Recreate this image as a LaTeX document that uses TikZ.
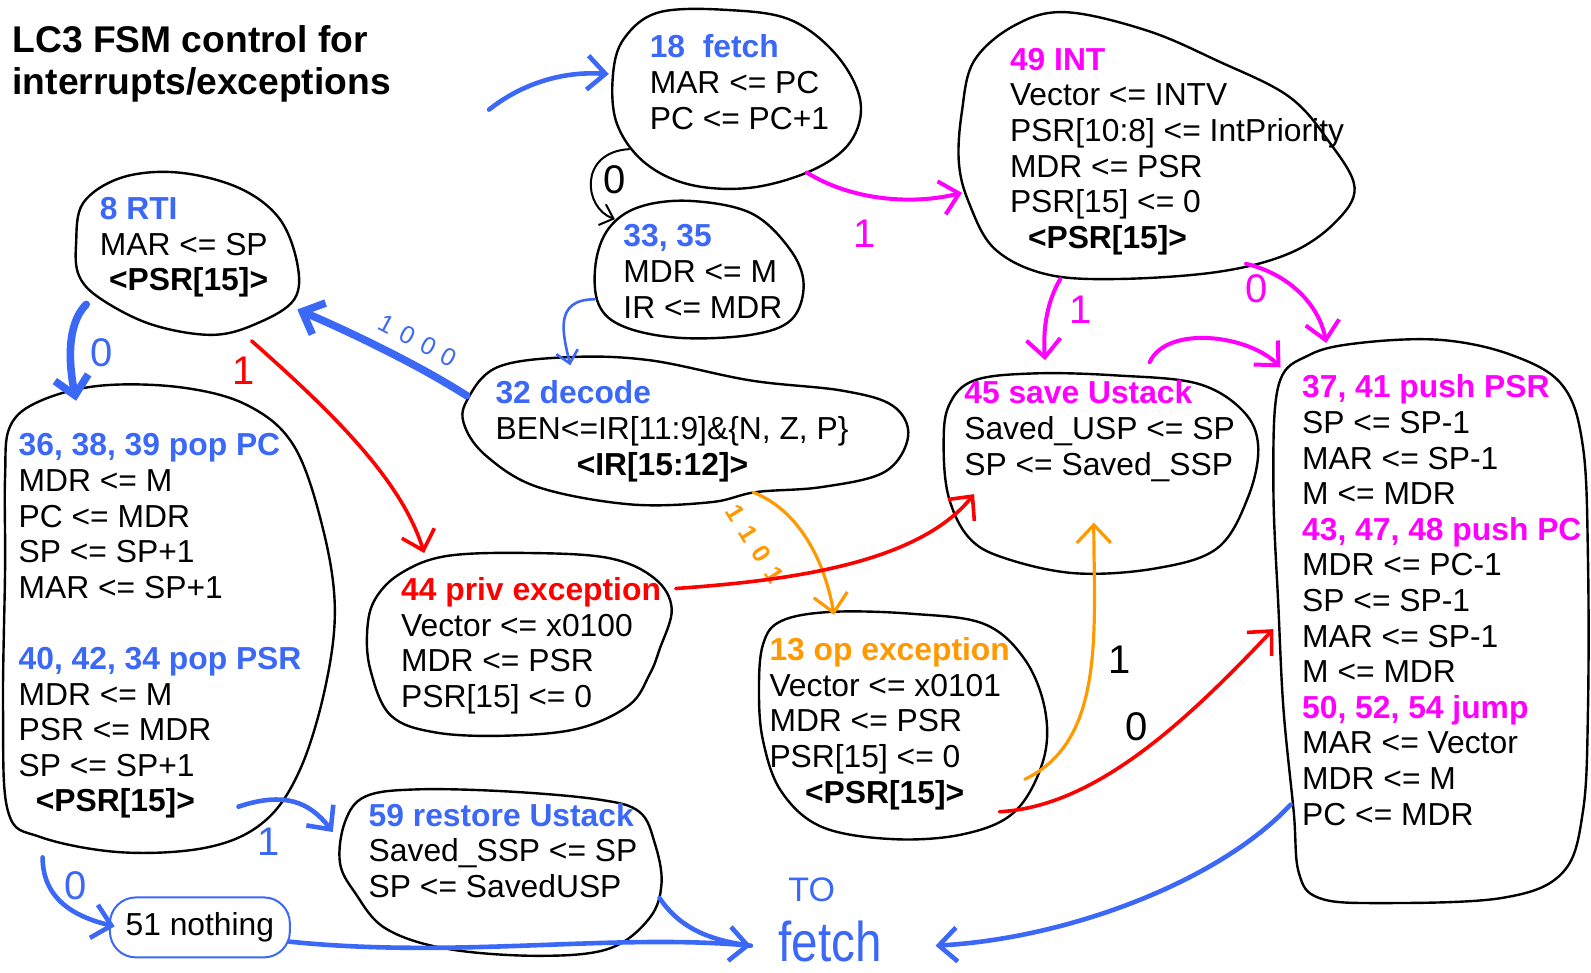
\documentclass[tikz,border=0pt]{standalone}
\usepackage{fontspec}
\setmainfont{Liberation Sans}
\usetikzlibrary{arrows.meta}
\definecolor{sblue}{RGB}{59,104,246}
\definecolor{smag}{RGB}{255,0,255}
\definecolor{sred}{RGB}{255,0,0}
\definecolor{sorange}{RGB}{255,153,0}
\newcommand\hdr[2]{\textcolor{#1}{\bfseries #2}}
\tikzset{
  blob/.style={draw=black, line width=1.2pt, line join=round},
  txt/.style={anchor=north west, inner sep=0pt, align=left,
              font=\fontsize{15.9}{17.8}\selectfont},
  lbl/.style={inner sep=0pt, font=\fontsize{20}{20}\selectfont},
  con/.style={line cap=round, line join=round},
  barb/.style={-{Straight Barb[length=9pt,width=17pt]}},
  smallbarb/.style={-{Straight Barb[length=6pt,width=11pt]}},
}
\begin{document}
\begin{tikzpicture}[x=0.5074pt, y=-0.5074pt]
\useasboundingbox (0,0) rectangle (1568,958);
\fill[white] (0,0) rectangle (1568,958);

% title
\node[anchor=north west, inner sep=0pt, align=left,
      font=\fontsize{18.6}{21}\bfseries] (title) at (12,25)
  {LC3 FSM control for\\interrupts/exceptions};

% ---- state outlines ----
\draw[blob] plot[smooth cycle, tension=0.6] coordinates {(604,75) (615,38) (650,12) (720,10) (780,20) (825,55) (848,100) (838,140) (800,168) (740,185) (680,182) (635,160) (608,122)};
\draw[blob] plot[smooth cycle, tension=0.6] coordinates {(600,225) (630,204) (680,198) (740,210) (778,245) (792,280) (780,315) (740,330) (670,333) (615,322) (590,300) (587,260)};
\draw[blob] plot[smooth cycle, tension=0.6] coordinates {(948,110) (960,60) (1000,25) (1050,12) (1130,30) (1200,60) (1270,95) (1310,140) (1335,185) (1315,220) (1270,250) (1200,268) (1100,275) (1030,270) (980,245) (955,200) (945,160)};
\draw[blob] plot[smooth cycle, tension=0.6] coordinates {(75,240) (82,200) (120,175) (175,170) (235,185) (275,215) (293,260) (290,295) (255,318) (210,330) (150,320) (100,295) (78,272)};
\draw[blob] plot[smooth cycle, tension=0.6] coordinates {(460,395) (490,362) (560,352) (640,355) (740,375) (830,385) (880,400) (895,430) (872,465) (810,480) (745,485) (700,495) (620,497) (530,480) (480,450) (458,420)};
\draw[blob] plot[smooth cycle, tension=0.6] coordinates {(10,420) (40,395) (100,380) (180,382) (245,400) (290,440) (318,520) (330,600) (320,680) (295,760) (260,810) (205,835) (120,840) (40,825) (8,800) (3,700) (5,560) (5,470)};
\draw[blob] plot[smooth cycle, tension=0.6] coordinates {(370,590) (395,565) (440,548) (520,545) (600,550) (645,570) (662,600) (650,640) (640,665) (620,695) (570,718) (500,725) (430,722) (385,705) (365,660) (362,620)};
\draw[blob] plot[smooth cycle, tension=0.6] coordinates {(752,635) (770,612) (820,603) (900,605) (970,615) (1010,650) (1030,700) (1028,750) (1000,800) (950,822) (880,827) (810,815) (770,780) (752,730) (748,680)};
\draw[blob] plot[smooth cycle, tension=0.6] coordinates {(935,400) (960,375) (1020,368) (1100,370) (1180,378) (1225,405) (1240,440) (1230,490) (1200,540) (1140,560) (1060,565) (990,550) (955,530) (935,490) (930,440)};
\draw[blob] plot[smooth cycle, tension=0.6] coordinates {(1260,380) (1290,350) (1340,338) (1420,335) (1490,350) (1540,380) (1560,440) (1565,550) (1565,700) (1560,800) (1540,860) (1480,885) (1360,890) (1300,885) (1280,860) (1275,800) (1265,700) (1260,600) (1255,480)};
\draw[blob] plot[smooth cycle, tension=0.6] coordinates {(340,810) (360,785) (410,778) (500,780) (590,788) (630,800) (645,830) (652,870) (640,905) (600,935) (530,942) (440,935) (380,915) (350,880) (335,850)};

% ---- state texts ----
\node[txt] (s18) at (640,34) {\hdr{sblue}{18\ \ fetch}\\MAR <= PC\\PC <= PC+1};
\node[txt] (s33) at (614,221) {\hdr{sblue}{33, 35}\\MDR <= M\\IR <= MDR};
\node[txt] (s49) at (995,47) {\hdr{smag}{49 INT}\\Vector <= INTV\\PSR[10:8] <= IntPriority\\MDR <= PSR\\PSR[15] <= 0\\\hspace*{9pt}\textbf{<PSR[15]>}};
\node[txt] (s8) at (98,194) {\hdr{sblue}{8 RTI}\\MAR <= SP\\\hspace*{4.6pt}\textbf{<PSR[15]>}};
\node[txt] (s32) at (488,375) {\hdr{sblue}{32 decode}\\BEN<=IR[11:9]\&\{N, Z, P\}\\\hspace*{40.6pt}\textbf{<IR[15:12]>}};
\node[txt] (s36) at (18,427) {\hdr{sblue}{36, 38, 39 pop PC}\\MDR <= M\\PC <= MDR\\SP <= SP+1\\MAR <= SP+1\\[17.8pt]\hdr{sblue}{40, 42, 34 pop PSR}\\MDR <= M\\PSR <= MDR\\SP <= SP+1\\\hspace*{8.6pt}\textbf{<PSR[15]>}};
\node[txt] (s44) at (395,569) {\hdr{sred}{44 priv exception}\\Vector <= x0100\\MDR <= PSR\\PSR[15] <= 0};
\node[txt] (s13) at (758,628) {\hdr{sorange}{13 op exception}\\Vector <= x0101\\MDR <= PSR\\PSR[15] <= 0\\\hspace*{17.8pt}\textbf{<PSR[15]>}};
\node[txt] (s45) at (950,375) {\hdr{smag}{45 save Ustack}\\Saved\_USP <= SP\\SP <= Saved\_SSP};
\node[txt] (s37) at (1283,369) {\hdr{smag}{37, 41 push PSR}\\SP <= SP-1\\MAR <= SP-1\\M <= MDR\\\hdr{smag}{43, 47, 48 push PC}\\MDR <= PC-1\\SP <= SP-1\\MAR <= SP-1\\M <= MDR\\\hdr{smag}{50, 52, 54 jump}\\MAR <= Vector\\MDR <= M\\PC <= MDR};
\node[txt] (s59) at (363,791) {\hdr{sblue}{59 restore Ustack}\\Saved\_SSP <= SP\\SP <= SavedUSP};
\node[draw=sblue, line width=1pt, rounded corners=13pt, minimum width=90pt,
      minimum height=30pt, inner sep=0pt, font=\fontsize{15.9}{17.8}\selectfont]
  (s51) at (197,914) {51 nothing};

% fetch target written by hand
\node[text=sblue, inner sep=0pt, font=\fontsize{17}{17}\selectfont] (tofetch) at (800,877) {TO};
\node[text=sblue, inner sep=0pt, font=\fontsize{28}{28}\selectfont] (fetchtxt) at (818,928) {\scalebox{0.85}[1]{fetch}};

% ---- connector end points ----
\coordinate (in0) at (482,108);
\coordinate (f-in) at (600,73);
\coordinate (f-lp) at (620,147);
\coordinate (f-o1) at (795,170);
\coordinate (m33-in) at (606,216);
\coordinate (m33-o) at (586,295);
\coordinate (d-in) at (562,360);
\coordinate (d-w) at (460,390);
\coordinate (d-s) at (742,485);
\coordinate (r-se) at (293,305);
\coordinate (r-sw) at (85,300);
\coordinate (r-s) at (248,336);
\coordinate (i-w) at (948,190);
\coordinate (i-s1) at (1045,275);
\coordinate (i-s0) at (1228,260);
\coordinate (p-n) at (75,395);
\coordinate (p-e) at (235,795);
\coordinate (p-s) at (42,845);
\coordinate (e44-n) at (418,545);
\coordinate (e44-e) at (666,580);
\coordinate (e13-n) at (822,606);
\coordinate (e13-e1) at (1010,768);
\coordinate (e13-e0) at (985,800);
\coordinate (u45-sw) at (960,487);
\coordinate (u45-s) at (1078,515);
\coordinate (u45-n) at (1030,355);
\coordinate (u45-ne) at (1133,357);
\coordinate (ps-w) at (1255,620);
\coordinate (ps-n) at (1307,338);
\coordinate (ps-nw) at (1262,362);
\coordinate (ps-sw) at (1272,793);
\coordinate (r59-w) at (328,820);
\coordinate (r59-se) at (650,885);
\coordinate (n51-w) at (113,913);
\coordinate (n51-e) at (285,928);
\coordinate (ft-w) at (740,932);
\coordinate (ft-e) at (922,932);

% ---- transitions ----
\draw[con, barb, sblue, line width=2.3pt] (in0) .. controls (515,82) and (555,70) .. (f-in);
\draw[con, smallbarb, black, line width=1pt] (f-lp) .. controls (570,150) and (575,205) .. (m33-in);
\node[lbl, black] (l0a) at (606,177) {0};
\draw[con, barb, smag, line width=2pt] (f-o1) .. controls (840,198) and (900,202) .. (i-w);
\node[lbl, smag] (l1a) at (852,230) {1};
\draw[con, smallbarb, sblue, line width=1.3pt] (m33-o) .. controls (545,295) and (555,330) .. (d-in);
\draw[con, barb, sblue, line width=3.8pt] (d-w) .. controls (410,358) and (340,325) .. (r-se);
\node[lbl, sblue, rotate=-28, font=\fontsize{12.5}{12.5}\selectfont] (l1000) at (412,336) {1\kern4.8pt0\kern4.8pt0\kern4.8pt0};
\draw[con, barb, sblue, line width=3.8pt] (r-sw) .. controls (65,320) and (68,360) .. (p-n);
\node[lbl, sblue] (l0b) at (100,348) {0};
\draw[con, barb, sred, line width=1.8pt] (r-s) .. controls (320,400) and (395,470) .. (e44-n);
\node[lbl, sred] (l1b) at (240,365) {1};
\draw[con, barb, sorange, line width=1.6pt] (d-s) .. controls (792,505) and (814,560) .. (e13-n);
\node[lbl, sorange, rotate=-58, font=\fontsize{12.5}{12.5}\bfseries] (l1101) at (744,536) {1\kern5.4pt1\kern5.4pt0\kern5.4pt1};
\draw[con, barb, sred, line width=1.8pt] (e44-e) .. controls (780,572) and (905,555) .. (u45-sw);
\draw[con, barb, sorange, line width=1.6pt] (e13-e1) .. controls (1090,730) and (1078,620) .. (u45-s);
\node[lbl, black] (l1c) at (1103,650) {1};
\draw[con, barb, sred, line width=1.8pt] (e13-e0) .. controls (1080,795) and (1170,710) .. (ps-w);
\node[lbl, black] (l0c) at (1120,716) {0};
\draw[con, barb, smag, line width=2pt] (i-s1) .. controls (1030,300) and (1028,330) .. (u45-n);
\node[lbl, smag] (l1d) at (1065,305) {1};
\draw[con, barb, smag, line width=2pt] (i-s0) .. controls (1270,270) and (1300,300) .. (ps-n);
\node[lbl, smag] (l0d) at (1238,285) {0};
\draw[con, barb, smag, line width=2pt] (u45-ne) .. controls (1150,320) and (1230,330) .. (ps-nw);
\draw[con, barb, sblue, line width=2.3pt] (p-e) .. controls (280,780) and (305,790) .. (r59-w);
\node[lbl, sblue] (l1e) at (265,830) {1};
\draw[con, barb, sblue, line width=2.3pt] (p-s) .. controls (42,890) and (80,905) .. (n51-w);
\node[lbl, sblue] (l0e) at (75,873) {0};
\draw[con, barb, sblue, line width=2.3pt] (n51-e) .. controls (450,945) and (600,920) .. (ft-w);
\draw[con, sblue, line width=2.3pt] (r59-se) .. controls (670,915) and (700,927) .. (ft-w);
\draw[con, barb, sblue, line width=2.3pt] (ps-sw) .. controls (1200,870) and (1050,925) .. (ft-e);
\end{tikzpicture}
\end{document}
